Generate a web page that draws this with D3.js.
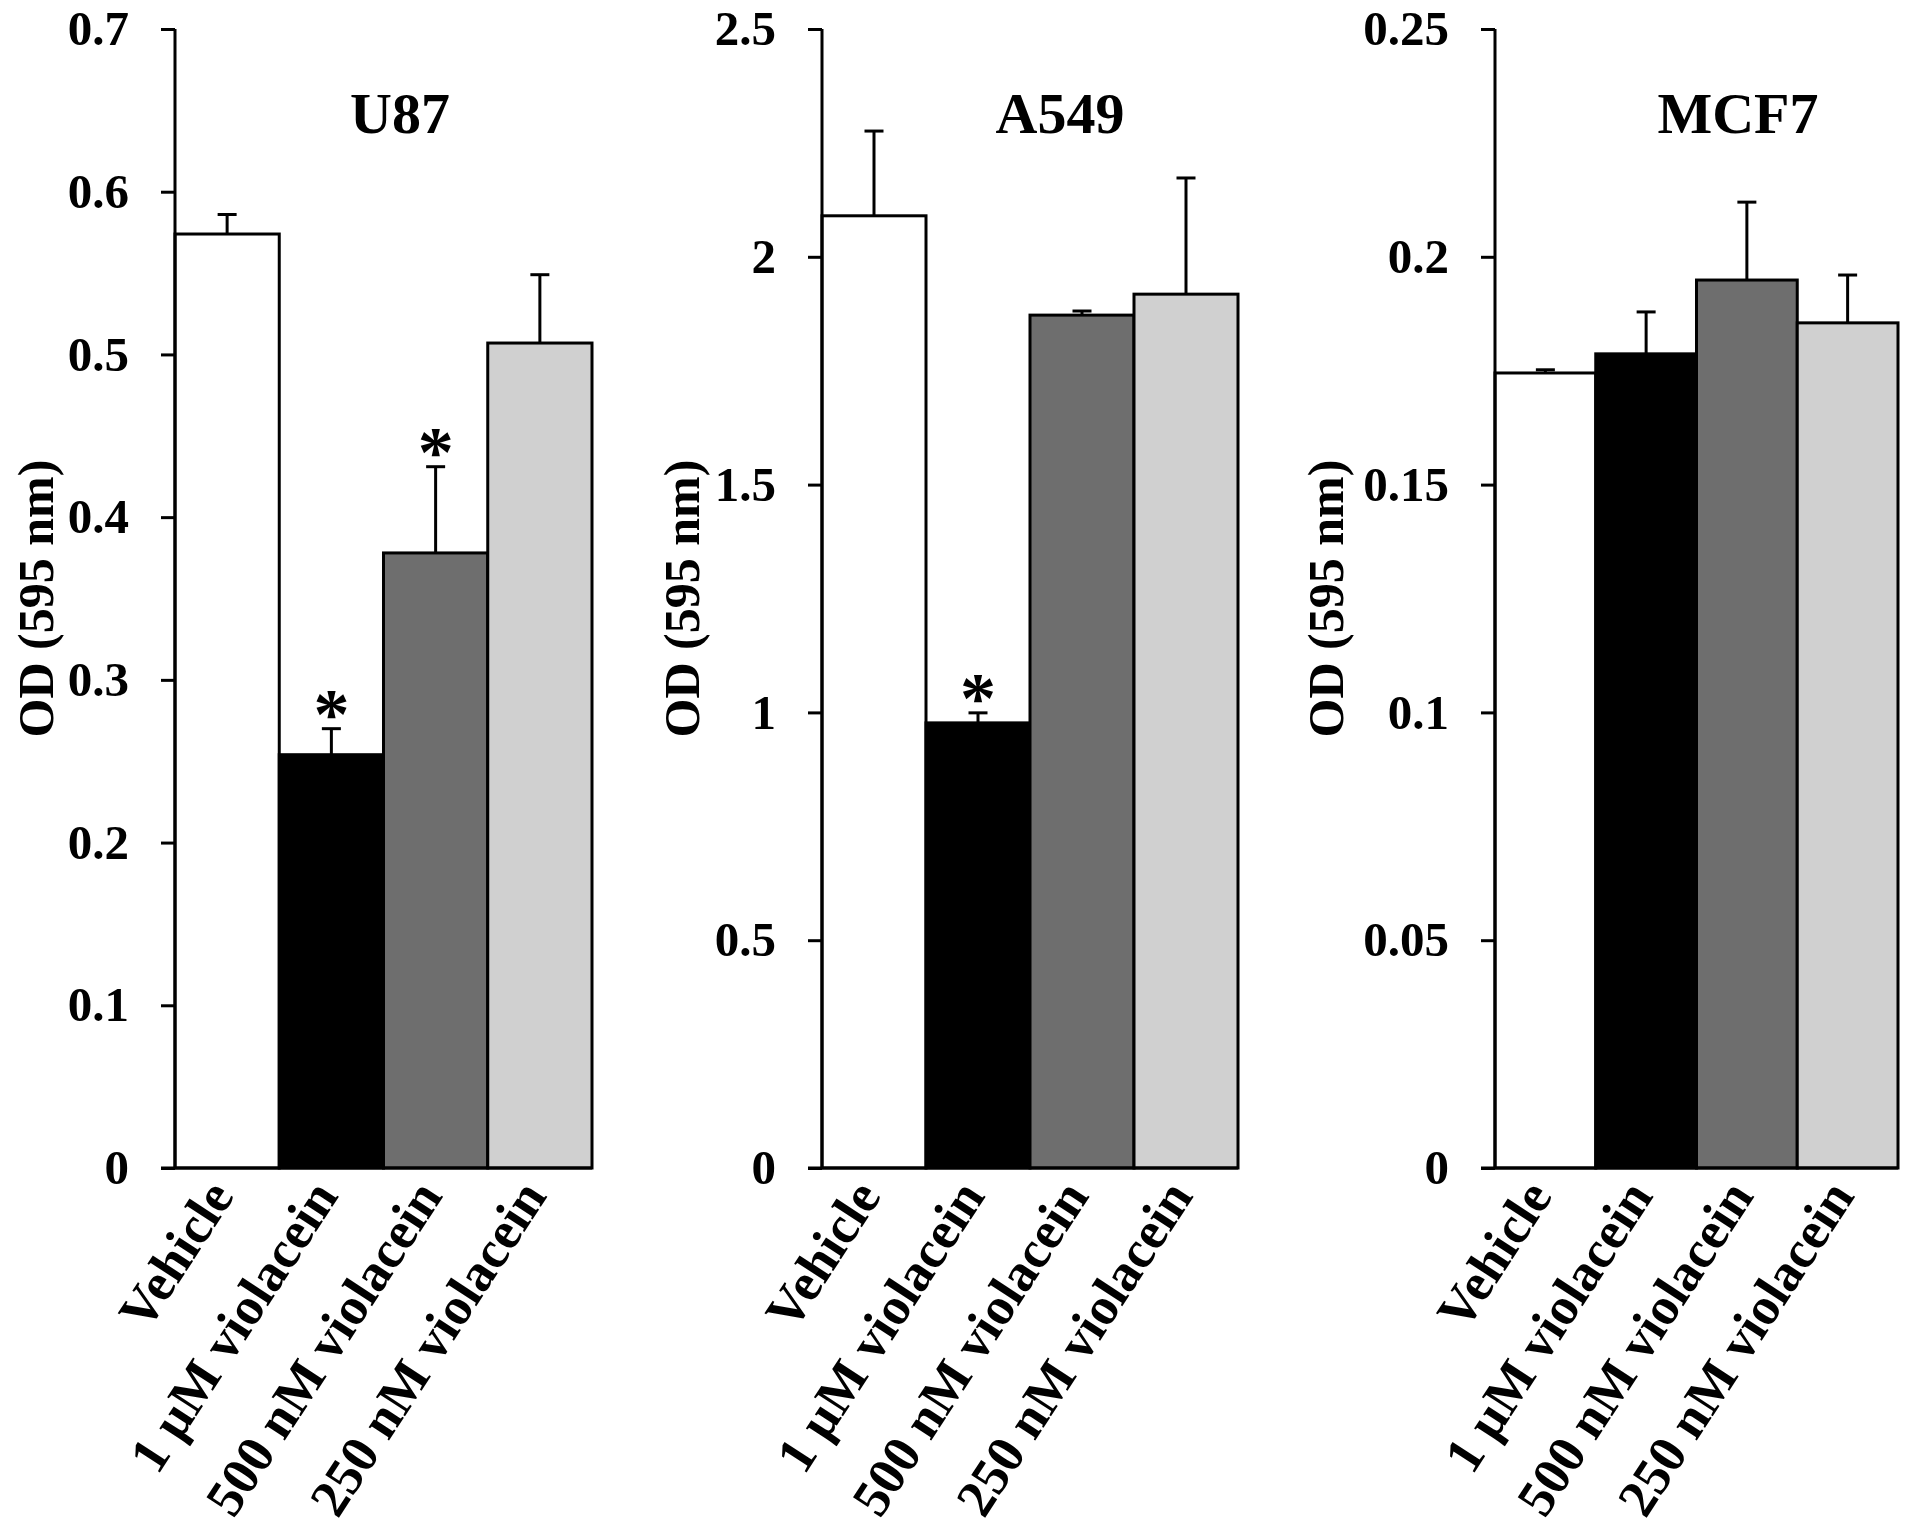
<!DOCTYPE html>
<html>
<head>
<meta charset="utf-8">
<script src="https://cdn.jsdelivr.net/npm/d3@7"></script>
<style>
  html, body { margin: 0; padding: 0; background: #fff; }
  text { font-family: "Liberation Serif", "Times New Roman", serif; font-weight: bold; fill: #000; }
</style>
</head>
<body>
<svg id="chart"></svg>
<script>
// categories shared by all three panels
const categories = ["Vehicle", "1 \u00b5M violacein", "500 nM violacein", "250 nM violacein"];
const cellLines = ["U87", "A549", "MCF7"];

// mean OD values
const u87Means = [0.574, 0.254, 0.378, 0.507];
const a549Means = [2.090, 0.977, 1.872, 1.918];
const mcf7Means = [0.1745, 0.1787, 0.1949, 0.1855];

// upper error bars (SD)
const u87Err = [0.012, 0.016, 0.053, 0.042];
const a549Err = [0.186, 0.022, 0.009, 0.255];
const mcf7Err = [0.0007, 0.0092, 0.0171, 0.0105];

// significance stars
const u87Sig = [false, true, true, false];
const a549Sig = [false, true, false, false];
const mcf7Sig = [false, false, false, false];

// y axis ticks
const u87Ticks = [0, 0.1, 0.2, 0.3, 0.4, 0.5, 0.6, 0.7];
const u87TickLabels = ["0", "0.1", "0.2", "0.3", "0.4", "0.5", "0.6", "0.7"];
const a549Ticks = [0, 0.5, 1, 1.5, 2, 2.5];
const a549TickLabels = ["0", "0.5", "1", "1.5", "2", "2.5"];
const mcf7Ticks = [0, 0.05, 0.1, 0.15, 0.2, 0.25];
const mcf7TickLabels = ["0", "0.05", "0.1", "0.15", "0.2", "0.25"];

const barColors = ["#ffffff", "#000000", "#6e6e6e", "#d0d0d0"];
const yLabel = "OD (595 nm)";

const width = 1913, height = 1533;
const plotTop = 29, plotBottom = 1168;

const panels = [
  { name: cellLines[0], means: u87Means, err: u87Err, sig: u87Sig, ticks: u87Ticks, labels: u87TickLabels,
    left: 175, right: 592, titleX: 400, yTitleOffset: 122 },
  { name: cellLines[1], means: a549Means, err: a549Err, sig: a549Sig, ticks: a549Ticks, labels: a549TickLabels,
    left: 822, right: 1238, titleX: 1060, yTitleOffset: 123 },
  { name: cellLines[2], means: mcf7Means, err: mcf7Err, sig: mcf7Sig, ticks: mcf7Ticks, labels: mcf7TickLabels,
    left: 1495, right: 1898, titleX: 1738, yTitleOffset: 152 }
];

const svg = d3.select("#chart").attr("width", width).attr("height", height);
svg.append("rect").attr("width", width).attr("height", height).attr("fill", "#fff");

panels.forEach(p => {
  const g = svg.append("g");

  const x = d3.scaleBand().domain(categories).range([p.left, p.right]).padding(0);
  const yMax = p.ticks[p.ticks.length - 1];
  const y = d3.scaleLinear().domain([0, yMax]).range([plotBottom, plotTop]);

  // bars
  g.selectAll("rect.bar")
    .data(categories)
    .join("rect")
    .attr("class", "bar")
    .attr("x", d => x(d))
    .attr("y", (d, i) => y(p.means[i]))
    .attr("width", x.bandwidth())
    .attr("height", (d, i) => plotBottom - y(p.means[i]))
    .attr("fill", (d, i) => barColors[i])
    .attr("stroke", "#000")
    .attr("stroke-width", 3);

  // error bars (upper only)
  const capW = 19;
  categories.forEach((c, i) => {
    const cx = x(c) + x.bandwidth() / 2;
    const yt = y(p.means[i] + p.err[i]);
    g.append("line")
      .attr("x1", cx).attr("x2", cx)
      .attr("y1", y(p.means[i])).attr("y2", yt)
      .attr("stroke", "#000").attr("stroke-width", 3);
    g.append("line")
      .attr("x1", cx - capW / 2).attr("x2", cx + capW / 2)
      .attr("y1", yt).attr("y2", yt)
      .attr("stroke", "#000").attr("stroke-width", 3);
    if (p.sig[i]) {
      g.append("text")
        .attr("x", cx)
        .attr("y", yt + 9)
        .attr("text-anchor", "middle")
        .attr("font-size", 72)
        .text("*");
    }
  });

  // y axis
  const yAxis = d3.axisLeft(y)
    .tickValues(p.ticks)
    .tickFormat((d, i) => p.labels[i])
    .tickSize(14)
    .tickPadding(32);
  const ax = g.append("g")
    .attr("transform", `translate(${p.left},0)`)
    .call(yAxis);
  ax.select(".domain").remove();
  ax.append("line")
    .attr("x1", 0).attr("x2", 0).attr("y1", plotTop).attr("y2", plotBottom)
    .attr("stroke", "#000").attr("stroke-width", 3);
  ax.selectAll(".tick line").attr("stroke", "#000").attr("stroke-width", 3);
  ax.selectAll(".tick text")
    .attr("font-size", 49)
    .attr("font-family", "Liberation Serif, Times New Roman, serif")
    .attr("font-weight", "bold")
    .attr("fill", "#000");

  // x axis baseline
  g.append("line")
    .attr("x1", p.left - 14).attr("x2", p.right)
    .attr("y1", plotBottom).attr("y2", plotBottom)
    .attr("stroke", "#000").attr("stroke-width", 3);

  // category labels, rotated
  g.selectAll("text.cat")
    .data(categories)
    .join("text")
    .attr("class", "cat")
    .attr("font-size", 53)
    .attr("text-anchor", "end")
    .attr("transform", d => `translate(${x(d) + x.bandwidth() / 2 + 8},${plotBottom + 28}) rotate(-57)`)
    .text(d => d);

  // y axis title
  g.append("text")
    .attr("font-size", 50)
    .attr("text-anchor", "middle")
    .attr("transform", `translate(${p.left - p.yTitleOffset},${(plotTop + plotBottom) / 2}) rotate(-90)`)
    .text(yLabel);

  // panel title
  g.append("text")
    .attr("x", p.titleX)
    .attr("y", 133)
    .attr("text-anchor", "middle")
    .attr("font-size", 58)
    .text(p.name);
});
</script>
</body>
</html>
